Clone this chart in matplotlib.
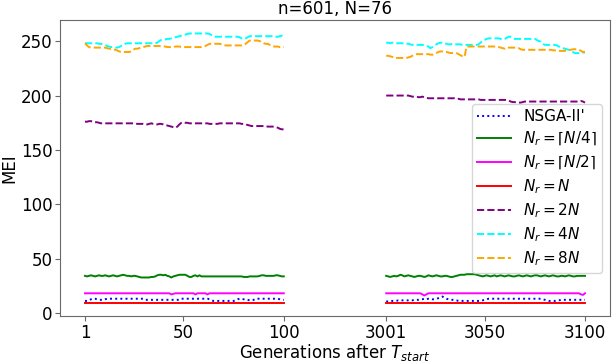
import matplotlib
matplotlib.use("Agg")
import matplotlib.pyplot as plt
import numpy as np

# x positions (generation index on the plot) and tick labels
x_left = list(range(1, 101))
x_right = list(range(151, 251))
tick_pos = [1, 50, 100, 151, 200, 250]
tick_labels = ['1', '50', '100', '3001', '3050', '3100']

labels = ["NSGA-II'", r'$N_r=\lceil N/4\rceil$', r'$N_r=\lceil N/2\rceil$',
          r'$N_r=N$', r'$N_r=2N$', r'$N_r=4N$', r'$N_r=8N$']
colors = ['blue', 'green', 'magenta', 'red', 'purple', 'cyan', 'orange']
styles = [':', '-', '-', '-', '--', '--', '--']

# ---- generations 1..100 ----
nsga_L = [11.5, 11.5, 12, 13, 13.5, 13.5, 13, 12.5, 12.5, 12.5,
          13, 13.5, 13.5, 13.5, 13.5, 13.5, 13.5, 13.5, 13.5, 13.5,
          13.5, 13.5, 13.5, 13.5, 13.5, 13.5, 13.5, 13.5, 13.5, 13.5,
          12.5, 12.5, 12.5, 12.5, 12.5, 12.5, 12.5, 12.5, 12.5, 12.5,
          12.5, 12.5, 12.5, 12.5, 12.5, 12.5, 12.5, 12.5, 13.5, 13.5,
          13.5, 13.5, 13.5, 13.5, 13.5, 13.5, 13.5, 13.5, 13.5, 13.5,
          13.5, 13.5, 13, 12, 11.5, 11.5, 11.5, 11.5, 11.5, 11.5,
          11.5, 11.5, 11.5, 11.5, 11.5, 12, 13, 13.5, 13.5, 13,
          13, 12.5, 12, 12, 12.5, 13.5, 13.5, 13.5, 13.5, 13.5,
          13.5, 13.5, 13.5, 13.5, 13.5, 13.5, 13.5, 13, 12.5, 12.5]
q4_L = [34.5, 34, 34.5, 35, 34.5, 34, 34.5, 35, 34.5, 34.5,
        35, 34.5, 34, 34.5, 35, 34.5, 34, 34.5, 35, 35.5,
        35, 34.5, 34.5, 34, 34.5, 34.5, 34, 33.5, 33, 33,
        33, 33, 33, 33.5, 33.5, 34, 35, 35.5, 35.5, 35,
        35.5, 34.5, 34, 33, 34, 34.5, 35, 35.5, 35.5, 35.5,
        35.5, 34.5, 33.5, 33.5, 34.5, 35, 34, 35, 34, 34,
        34, 34, 34, 34, 34, 34, 34, 34, 34, 34,
        34, 34, 34, 34, 34, 34, 34, 34, 34, 33.5,
        33.5, 33.5, 34, 34, 34, 34, 34, 34.5, 35, 35,
        34.5, 34.5, 34.5, 34.5, 34.5, 35, 35, 34.5, 34, 34]
q2_L = [18.5, 18.5, 18.5, 18.5, 18.5, 18.5, 18.5, 18.5, 18.5, 18.5,
        18.5, 18.5, 18.5, 18.5, 18.5, 18.5, 18.5, 18.5, 18.5, 18.5,
        18.5, 18.5, 18.5, 18.5, 18.5, 18.5, 18.5, 18.5, 18.5, 18.5,
        18.5, 18.5, 18.5, 18.5, 18.5, 18.5, 18.5, 18.5, 18.5, 18.5,
        18.5, 18.5, 18.5, 17.5, 18, 18.5, 18.5, 18.5, 18.5, 18.5,
        18.5, 18.5, 18.5, 18.5, 18.5, 17.5, 18.5, 18.5, 18.5, 18.5,
        18.5, 17.5, 18.5, 18.5, 18.5, 18.5, 18.5, 18.5, 18.5, 18.5,
        18.5, 18.5, 18.5, 18.5, 18.5, 18.5, 18.5, 18.5, 18.5, 18.5,
        18.5, 18.5, 18.5, 18.5, 18.5, 18.5, 18.5, 18.5, 18.5, 18.5,
        18.5, 18.5, 18.5, 18.5, 18.5, 18.5, 18.5, 18.5, 18.5, 18.5]
n1_L = [10, 10, 10, 10, 10, 10, 10, 10, 10, 10,
        10, 10, 10, 10, 10, 10, 10, 10, 10, 10,
        10, 10, 10, 10, 10, 10, 10, 10, 10, 10,
        10, 10, 10, 10, 10, 10, 10, 10, 10, 10,
        10, 10, 10, 10, 10, 10, 10, 10, 10, 10,
        10, 10, 10, 10, 10, 10, 10, 10, 10, 10,
        10, 10, 10, 10, 10, 10, 10, 10, 10, 10,
        10, 10, 10, 10, 10, 10, 10, 10, 10, 10,
        10, 10, 10, 10, 10, 10, 10, 10, 10, 10,
        10, 10, 10, 10, 10, 10, 10, 10, 10, 10]
n2_L = [176, 176, 176.5, 176.5, 176, 175.5, 175.5, 175, 174.5, 174.5,
        174.5, 174.5, 174.5, 174.5, 174.5, 174.5, 174.5, 174.5, 174.5, 174.5,
        174.5, 174.5, 174.5, 174.5, 174.5, 174.5, 174, 174, 174, 174,
        173.5, 173.5, 174, 174.5, 174, 173.5, 173.5, 174, 174, 173.5,
        173, 172.5, 172, 171.5, 171, 170.5, 171.5, 173.5, 175, 175.5,
        175, 175, 174.5, 174.5, 174.5, 174.5, 174.5, 174.5, 174.5, 174.5,
        174.5, 174.5, 174, 174, 174, 174, 174, 174.5, 174.5, 174.5,
        174.5, 174.5, 174.5, 174.5, 174.5, 174.5, 174.5, 174.5, 174, 174,
        173.5, 173, 172.5, 172, 172, 172, 172, 172, 172, 172,
        172, 171.5, 171.5, 171.5, 171.5, 171, 170.5, 169.5, 169, 169]
n4_L = [248, 248, 248, 248, 248, 248, 248, 247.5, 247.5, 247,
        246.5, 245.5, 245, 244.5, 244.5, 244, 244, 244.5, 245.5, 246.5,
        247.5, 248, 248, 248, 248, 248, 248, 248, 248, 248,
        248, 248, 248, 248, 248, 248, 248.5, 250, 251, 251,
        251.5, 252, 252, 252.5, 253, 253.5, 254, 254.5, 255, 255.5,
        256, 256.5, 257, 257, 257, 257, 257, 257, 257, 257,
        257, 257, 256.5, 255.5, 254.5, 254, 254, 254, 254, 254,
        254, 254, 254, 254, 254, 254, 254, 253.5, 252.5, 252,
        252.5, 253.5, 254.5, 254.5, 254.5, 254.5, 254.5, 254.5, 254.5, 254.5,
        254.5, 254.5, 254.5, 254.5, 254.5, 254, 254, 254.5, 255, 254.5]
n8_L = [248, 246, 244.5, 244, 244, 244, 244, 244, 244, 244,
        244, 243.5, 243, 243, 242.5, 242, 241.5, 240.5, 240, 240,
        240, 240, 240, 240.5, 242, 243, 243, 243.5, 244, 244.5,
        245, 245.5, 245.5, 245.5, 245.5, 245.5, 245.5, 245.5, 245, 245,
        245, 244.5, 244.5, 244.5, 244.5, 245, 245, 245, 244.5, 244.5,
        244.5, 244.5, 244.5, 244.5, 244.5, 244.5, 244.5, 244.5, 244.5, 245,
        245.5, 246.5, 247.5, 247.5, 247.5, 247.5, 247.5, 247.5, 247, 246.5,
        246, 246, 246, 246, 246, 246, 246, 246, 246, 246.5,
        247.5, 249, 250.5, 250.5, 250.5, 250.5, 250.5, 250, 249, 248,
        247.5, 247.5, 246.5, 245.5, 245, 245, 245, 244.5, 244.5, 244.5]

# ---- generations 3001..3100 ----
nsga_R = [11, 11, 11.5, 11.5, 11.5, 11.5, 12, 12, 12, 12,
          12, 12, 12, 12, 12.5, 12.5, 12.5, 13, 13, 13.5,
          13, 13.5, 13.5, 13, 13, 13.5, 14, 14.5, 15.5, 14.5,
          13.5, 13, 12.5, 12.5, 12, 12, 11.5, 11.5, 11.5, 11.5,
          11.5, 11.5, 11.5, 11.5, 11.5, 11.5, 11.5, 11.5, 12, 12.5,
          13, 13.5, 13.5, 13.5, 13.5, 13.5, 13.5, 13.5, 13.5, 13.5,
          13.5, 13.5, 13.5, 13.5, 13.5, 13.5, 13.5, 13.5, 13.5, 13.5,
          13.5, 13.5, 13.5, 13.5, 13.5, 13.5, 13.5, 13.5, 13, 12.5,
          12, 11.5, 11.5, 11.5, 11.5, 12, 12, 12.5, 12.5, 12.5,
          12.5, 12.5, 12.5, 12.5, 12.5, 12.5, 12.5, 12.5, 12.5, 12.5]
q4_R = [34.5, 34, 33.5, 34, 34.5, 34, 34.5, 35.5, 35, 34,
        34.5, 35, 34.5, 34, 33.5, 34, 34.5, 34.5, 34, 33.5,
        34, 35, 34.5, 34, 34.5, 35, 34.5, 34, 34, 34.5,
        34.5, 34, 33.5, 33.5, 34, 34.5, 35, 35.5, 35.5, 35.5,
        36, 36, 36, 36, 36, 35.5, 35, 34.5, 34, 34.5,
        35, 34.5, 34, 34.5, 35, 34, 34.5, 35, 34.5, 34,
        34.5, 35, 34.5, 34, 34, 34.5, 35, 34.5, 34, 34.5,
        35, 34.5, 34, 34.5, 35, 35, 34.5, 34, 34.5, 35,
        34.5, 34, 34.5, 35, 34.5, 34, 34, 34.5, 34.5, 34,
        34.5, 35, 34.5, 34, 34, 34.5, 34.5, 34.5, 34.5, 34.5]
q2_R = [18.5, 18.5, 18.5, 18.5, 18.5, 18.5, 18.5, 18.5, 18.5, 18.5,
        18.5, 18.5, 18.5, 18.5, 18.5, 18.5, 18.5, 18.5, 17.5, 16.5,
        17.5, 18.5, 18.5, 18.5, 18.5, 18.5, 18.5, 18.5, 18.5, 18.5,
        18.5, 18.5, 18.5, 18.5, 18.5, 18.5, 18.5, 18.5, 18.5, 18.5,
        18.5, 18.5, 18.5, 18.5, 18.5, 18.5, 18.5, 18.5, 18.5, 18.5,
        18.5, 18.5, 18.5, 18.5, 18.5, 18.5, 18.5, 18.5, 18.5, 18.5,
        18.5, 18.5, 18.5, 18.5, 18.5, 18.5, 18.5, 18.5, 18.5, 18.5,
        18.5, 18.5, 18.5, 18.5, 18.5, 18.5, 18.5, 18.5, 18.5, 18.5,
        18.5, 18.5, 18.5, 18.5, 18.5, 18.5, 18.5, 18.5, 18.5, 18.5,
        18.5, 18.5, 18.5, 18.5, 18.5, 18.5, 18.5, 17.5, 17, 18.5]
n1_R = [10, 10, 10, 10, 10, 10, 10, 10, 10, 10,
        10, 10, 10, 10, 10, 10, 10, 10, 10, 10,
        10, 10, 10, 10, 10, 10, 10, 10, 10, 10,
        10, 10, 10, 10, 10, 10, 10, 10, 10, 10,
        10, 10, 10, 10, 10, 10, 10, 10, 10, 10,
        10, 10, 10, 10, 10, 10, 10, 10, 10, 10,
        10, 10, 10, 10, 10, 10, 10, 10, 10, 10,
        10, 10, 10, 10, 10, 10, 10, 10, 10, 10,
        10, 10, 10, 10, 10, 10, 10, 10, 10, 10,
        10, 10, 10, 10, 10, 10, 10, 10, 10, 10]
n2_R = [200, 200, 200, 200, 200, 200, 200, 200, 200, 200,
        200, 200, 199.5, 199, 199, 199, 198.5, 198.5, 199, 198.5,
        198, 197.5, 197.5, 197.5, 197.5, 197.5, 197.5, 197.5, 197.5, 197.5,
        197.5, 197.5, 197.5, 197.5, 197.5, 197, 197, 196.5, 196.5, 196.5,
        196.5, 196.5, 196.5, 196.5, 196.5, 196.5, 196.5, 196, 196, 196,
        196, 196, 196, 196, 196, 196, 196, 196, 196, 196,
        196, 195.5, 194.5, 194, 194, 193.5, 193.5, 193.5, 194, 194.5,
        194.5, 194.5, 194.5, 194.5, 194.5, 194.5, 194.5, 194.5, 194.5, 194.5,
        194.5, 194.5, 194.5, 194.5, 194.5, 194.5, 194.5, 194.5, 194.5, 194.5,
        194.5, 194.5, 194.5, 194.5, 194.5, 194.5, 194.5, 195, 194.5, 193.5]
n4_R = [248.5, 248.5, 248, 248.5, 248.5, 248, 248, 248, 248, 247.5,
        247.5, 247.5, 247, 246.5, 246.5, 246.5, 246.5, 246.5, 246.5, 246,
        245.5, 245, 243.5, 244.5, 246, 247, 248, 248.5, 248.5, 248,
        247.5, 247, 247, 247.5, 247, 247, 247, 247, 246.5, 246.5,
        246.5, 246.5, 246.5, 246.5, 246.5, 246.5, 247, 248.5, 250, 251,
        252, 252.5, 252.5, 252.5, 252.5, 252.5, 252.5, 252, 251.5, 252,
        253, 254, 254, 253, 252, 252, 252, 252, 252, 252,
        252, 252, 252, 252, 252, 251, 250, 249.5, 247.5, 246.5,
        246.5, 246.5, 246.5, 246.5, 246.5, 246, 245, 244, 243.5, 243,
        242.5, 242, 241, 240, 239, 239, 239, 239, 239.5, 239.5]
n8_R = [236.5, 236.5, 236, 235.5, 234.5, 234.5, 234.5, 234.5, 234.5, 234.5,
        234.5, 235, 235.5, 236.5, 237.5, 238, 238, 238, 238, 238,
        238, 238, 237.5, 237.5, 238, 239, 240, 240.5, 240.5, 240,
        240, 239.5, 239, 239, 239, 239, 238, 237, 236, 235.5,
        245, 245, 245, 245, 245, 245, 245, 245, 245, 245,
        245, 245, 245, 245, 245, 245, 244.5, 244, 243.5, 243,
        243, 244, 244, 244, 244, 244, 243.5, 242.5, 242, 242,
        242, 242, 242, 242, 242, 242, 242, 242, 242, 242,
        242, 242, 242, 241.5, 241.5, 241, 241, 241, 241, 241,
        241.5, 242, 242, 242.5, 242.5, 242.5, 242, 241, 240, 240]

series_L = [nsga_L, q4_L, q2_L, n1_L, n2_L, n4_L, n8_L]
series_R = [nsga_R, q4_R, q2_R, n1_R, n2_R, n4_R, n8_R]

fig = plt.figure(figsize=(6.12, 3.62), dpi=100)
ax = fig.add_axes([60/612, 46/362, 550/612, 296/362])

for yl, yr, lab, c, ls in zip(series_L, series_R, labels, colors, styles):
    ax.plot(x_left, yl, color=c, linestyle=ls, linewidth=1.4, label=lab)
    ax.plot(x_right, yr, color=c, linestyle=ls, linewidth=1.4)

ax.set_xticks(tick_pos)
ax.set_xticklabels(tick_labels)
ax.set_yticks([0, 50, 100, 150, 200, 250])
ax.tick_params(labelsize=12, color='dimgray', pad=2)
for sp in ax.spines.values():
    sp.set_color('dimgray')
ax.set_xlabel(r'Generations after $T_{start}$', fontsize=12, labelpad=0)
ax.set_ylabel('MEI', fontsize=12, labelpad=2)
ax.set_title('n=601, N=76', fontsize=12, pad=4)
ax.legend(loc='center right', bbox_to_anchor=(1.0, 0.43), fontsize=11,
          labelspacing=0.35, borderpad=0.35, handlelength=2.2)

fig.savefig('out.png', dpi=100)
